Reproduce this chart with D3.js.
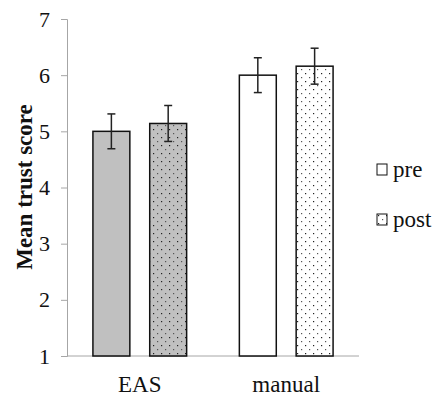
<!DOCTYPE html>
<html><head><meta charset="utf-8">
<script src="https://cdn.jsdelivr.net/npm/d3@7"></script>
<style>body{margin:0;background:#fff}</style>
</head><body>
<svg id="c" width="436" height="398"></svg>
<script>
const categories = ["EAS", "manual"];
const seriesNames = ["pre", "post"];
const preValues = [5.0, 6.0];
const postValues = [5.14, 6.16];
const preErrors = [0.31, 0.31];
const postErrors = [0.32, 0.32];
const yTicks = [1, 2, 3, 4, 5, 6, 7];

const svg = d3.select("#c");
const font = "'Liberation Serif','Times New Roman',serif";
const defs = svg.append("defs");
function dotPattern(id, bg) {
  const p = defs.append("pattern").attr("id", id).attr("patternUnits", "userSpaceOnUse")
    .attr("width", 8).attr("height", 8);
  p.append("rect").attr("width", 8).attr("height", 8).attr("fill", bg);
  p.append("rect").attr("x", 1).attr("y", 1).attr("width", 1.2).attr("height", 1.2).attr("fill", "#222");
  p.append("rect").attr("x", 5).attr("y", 5).attr("width", 1.2).attr("height", 1.2).attr("fill", "#555");
}
dotPattern("dotGray", "#c0c0c0");
dotPattern("dotWhite", "#ffffff");

const y = d3.scaleLinear().domain([1, 7]).range([356, 19]);
const x0 = d3.scaleBand().domain(categories).range([67, 359]).paddingInner(0.36).paddingOuter(0.177);
const x1 = d3.scaleBand().domain(seriesNames).range([0, x0.bandwidth()]).paddingInner(0.35);

// y axis
const yAxis = svg.append("g").attr("transform", "translate(67,0)")
  .call(d3.axisLeft(y).tickValues(yTicks).tickSize(6).tickPadding(11).tickFormat(d3.format("d")));
yAxis.select(".domain").attr("stroke", "#a6a6a6");
yAxis.selectAll(".tick line").attr("stroke", "#a6a6a6");
yAxis.selectAll("text").attr("font-family", font).attr("font-size", 22).attr("fill", "#111");

// x axis line
svg.append("line").attr("x1", 67).attr("x2", 359).attr("y1", y(1)).attr("y2", y(1))
  .attr("stroke", "#a6a6a6").attr("stroke-width", 1);

const fills = {
  EAS: { pre: "#c0c0c0", post: "url(#dotGray)" },
  manual: { pre: "#ffffff", post: "url(#dotWhite)" }
};

const data = [];
categories.forEach((c, i) => {
  data.push({ c, s: "pre", v: preValues[i], e: preErrors[i] });
  data.push({ c, s: "post", v: postValues[i], e: postErrors[i] });
});

const g = svg.append("g");
g.selectAll("rect.bar").data(data).join("rect").attr("class", "bar")
  .attr("x", d => x0(d.c) + x1(d.s))
  .attr("y", d => y(d.v))
  .attr("width", x1.bandwidth())
  .attr("height", d => y(1) - y(d.v))
  .attr("fill", d => fills[d.c][d.s])
  .attr("stroke", "#111").attr("stroke-width", 1.5);

// error bars
const eb = g.selectAll("g.err").data(data).join("g").attr("class", "err")
  .attr("stroke", "#222").attr("stroke-width", 1.5);
const cx = d => x0(d.c) + x1(d.s) + x1.bandwidth() / 2;
eb.append("line")
  .attr("x1", cx).attr("x2", cx)
  .attr("y1", d => y(d.v + d.e)).attr("y2", d => y(d.v - d.e));
["+", "-"].forEach(sg => {
  eb.append("line")
    .attr("x1", d => cx(d) - 4)
    .attr("x2", d => cx(d) + 4)
    .attr("y1", d => y(sg === "+" ? d.v + d.e : d.v - d.e))
    .attr("y2", d => y(sg === "+" ? d.v + d.e : d.v - d.e));
});

// x labels
svg.selectAll("text.xl").data(categories).join("text").attr("class", "xl")
  .attr("x", d => x0(d) + x0.bandwidth() / 2).attr("y", 392)
  .attr("text-anchor", "middle").attr("font-family", font).attr("font-size", 23).attr("fill", "#111")
  .text(d => d);

// y label
svg.append("text").attr("transform", "translate(32,187) rotate(-90)")
  .attr("text-anchor", "middle").attr("font-family", font).attr("font-size", 23)
  .attr("font-weight", "bold").attr("fill", "#111").text("Mean trust score");

// legend
const legFill = { pre: "#ffffff", post: "url(#dotWhite)" };
const leg = svg.selectAll("g.leg").data(seriesNames).join("g").attr("class", "leg")
  .attr("transform", (d, i) => `translate(377,${164 + i * 50})`);
leg.append("rect").attr("width", 10).attr("height", 11)
  .attr("fill", d => legFill[d]).attr("stroke", "#111").attr("stroke-width", 1);
leg.append("text").attr("x", 16).attr("y", 13).attr("font-family", font).attr("font-size", 23)
  .attr("fill", "#111").text(d => d);
</script>
</body></html>
